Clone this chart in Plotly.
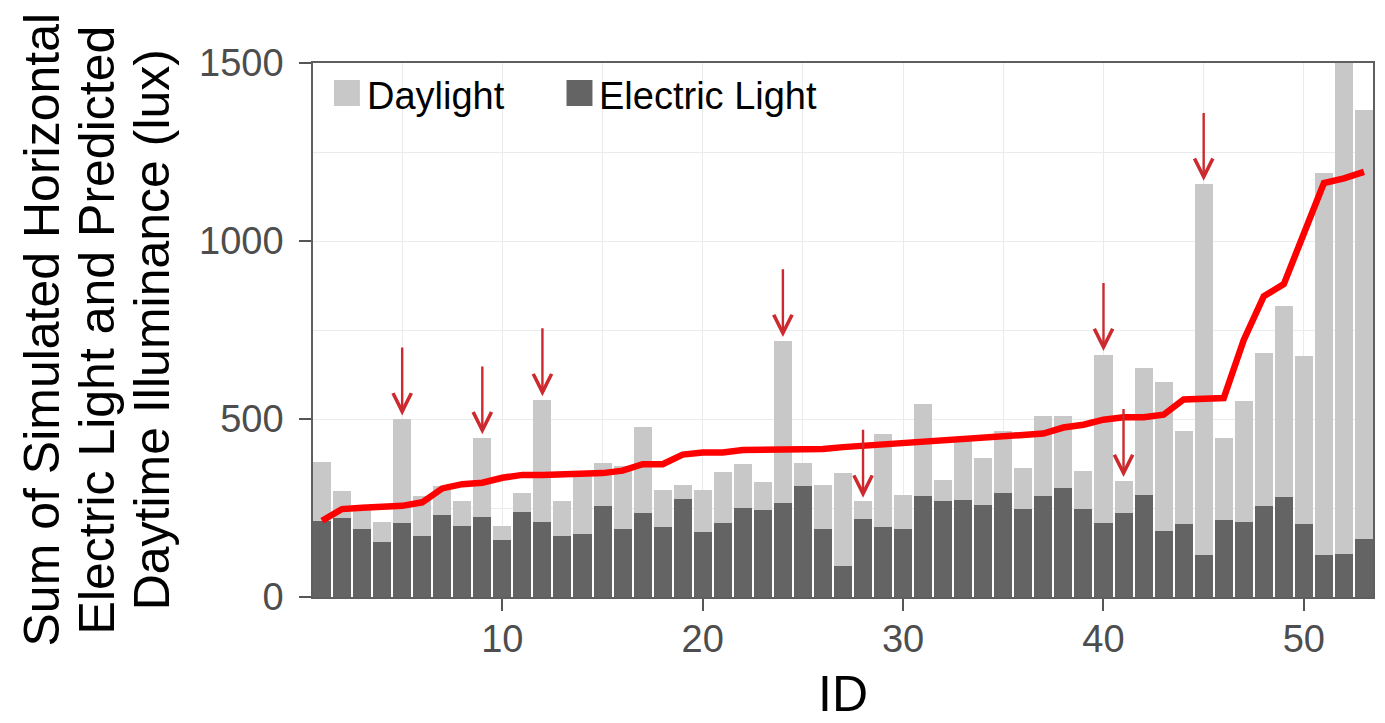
import plotly.graph_objects as go

# ---------------- data ----------------
ids = list(range(1, 54))

electric = [214, 222, 190, 154, 208, 171, 229, 200, 225, 160,
            240, 211, 171, 176, 255, 190, 237, 196, 276, 182,
            208, 251, 243, 265, 312, 190, 88, 218, 196, 190,
            284, 269, 272, 258, 291, 247, 283, 305, 247, 207,
            237, 287, 186, 204, 117, 215, 211, 255, 280, 204,
            117, 121, 164]

total = [380, 297, 245, 210, 500, 283, 312, 269, 447, 200,
         293, 554, 269, 340, 377, 369, 478, 301, 316, 301,
         352, 373, 322, 720, 377, 316, 348, 269, 457, 287,
         543, 330, 438, 391, 467, 362, 508, 508, 355, 681,
         327, 644, 605, 467, 1159, 446, 551, 685, 818, 677,
         1190, 1600, 1368]

predicted = [214, 247, 251, 255, 256, 266, 305, 317, 321, 335,
             343, 343, 344, 348, 348, 355, 373, 373, 400, 406,
             406, 413, 414, 414, 414, 416, 421, 425, 429, 431,
             435, 439, 443, 447, 454, 455, 459, 476, 484, 498,
             505, 505, 512, 555, 555, 559, 722, 845, 879, 1025,
             1163, 1176, 1194]

arrow_ids = [5, 9, 12, 24, 28, 40, 41, 45]

x_ticks = [10, 20, 30, 40, 50]
y_ticks = [0, 500, 1000, 1500]

daylight = [t - e for t, e in zip(total, electric)]

# ---------------- styles ----------------
FONT = "Liberation Sans, Arial, Helvetica, sans-serif"
C_DAY = "#C8C8C8"
C_ELEC = "#646464"
C_LINE = "#FF0000"
C_ARROW = "#CC2A2E"
GRID = "#EBEBEB"

fig = go.Figure()
fig.add_bar(x=ids, y=electric, name="Electric Light", marker=dict(color=C_ELEC, line=dict(width=0)),
            showlegend=False)
fig.add_bar(x=ids, y=daylight, name="Daylight", marker=dict(color=C_DAY, line=dict(width=0)),
            showlegend=False)
fig.add_scatter(x=ids, y=predicted, mode="lines", line=dict(color=C_LINE, width=6.5),
                showlegend=False, name="Predicted")

for i in arrow_ids:
    t = total[i - 1]
    fig.add_annotation(x=i, y=t + 10, ax=i, ay=t + 205, xref="x", yref="y", axref="x", ayref="y",
                       text="", showarrow=True, arrowhead=5, arrowsize=1.5, arrowwidth=2.4,
                       arrowcolor=C_ARROW)

# panel position in screenshot pixels: x 313..1375, y 63..597
def px_x(p):
    return (p - 313) / 1062.0

def px_y(p):
    return (597 - p) / 534.0

legend_items = [("Daylight", C_DAY, 334), ("Electric Light", C_ELEC, 567)]
for label, col, left in legend_items:
    fig.add_shape(type="rect", xref="paper", yref="paper",
                  x0=px_x(left), x1=px_x(left + 26), y0=px_y(106), y1=px_y(80),
                  fillcolor=col, line=dict(width=0))
    fig.add_annotation(xref="paper", yref="paper", x=px_x(left + 31), y=px_y(96),
                       xanchor="left", yanchor="middle", text=label, showarrow=False,
                       font=dict(family=FONT, size=38, color="black"))

# y-axis title as three centred lines
ytitle_lines = ["Sum of Simulated Horizontal", "Electric Light and Predicted",
                "Daytime Illuminance (lux)"]
for line_txt, cx in zip(ytitle_lines, [41, 97, 152]):
    fig.add_annotation(xref="paper", yref="paper", x=px_x(cx), y=0.5, xanchor="center",
                       yanchor="middle", text=line_txt, textangle=-90, showarrow=False,
                       font=dict(family=FONT, size=50, color="black"))

fig.add_annotation(xref="paper", yref="paper", x=0.5, y=px_y(694), xanchor="center",
                   yanchor="middle", text="ID", showarrow=False,
                   font=dict(family=FONT, size=50, color="black"))

# page body adds an 8px offset; figure sized so the panel lands at the reference spot
fig.update_layout(
    width=1377, height=715,
    margin=dict(l=305, r=10, t=55, b=126),
    plot_bgcolor="white", paper_bgcolor="white",
    barmode="stack", bargap=0.1,
    font=dict(family=FONT),
)

fig.update_xaxes(
    range=[0.55, 53.45], tickmode="array", tickvals=x_ticks,
    ticks="outside", ticklen=12, tickwidth=1.5, tickcolor="#555555",
    tickfont=dict(family=FONT, size=38, color="#4D4D4D"), ticklabelstandoff=-4,
    showgrid=True, gridcolor=GRID, gridwidth=1.3,
    minor=dict(tickvals=[5, 15, 25, 35, 45], showgrid=True, gridcolor=GRID, gridwidth=0.8, ticks=""),
    showline=True, mirror=True, linecolor="#5F5F5F", linewidth=1.5, zeroline=False,
)
fig.update_yaxes(
    range=[0, 1500], tickmode="array", tickvals=y_ticks,
    ticks="outside", ticklen=12, tickwidth=1.5, tickcolor="#555555",
    tickfont=dict(family=FONT, size=38, color="#4D4D4D"), ticklabelstandoff=8,
    showgrid=True, gridcolor=GRID, gridwidth=1.3,
    minor=dict(tickvals=[250, 750, 1250], showgrid=True, gridcolor=GRID, gridwidth=0.8, ticks=""),
    showline=True, mirror=True, linecolor="#5F5F5F", linewidth=1.5, zeroline=False,
)

fig.write_html("out.html")
